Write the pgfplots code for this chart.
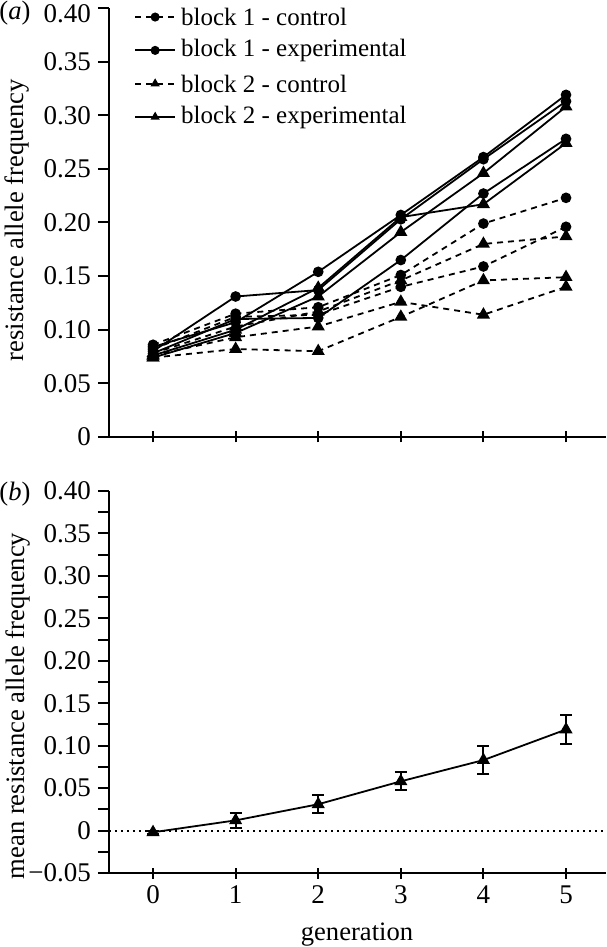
\documentclass[border=0pt]{standalone}
\usepackage{fontspec}
\setmainfont{Liberation Serif}
\usepackage{pgfplots}
\pgfplotsset{compat=1.18}

\begin{document}
\begin{tikzpicture}[font=\fontsize{12.5}{15}\selectfont]
\pgfplotsset{
 common/.style={
  scale only axis, width=248.5pt,
  xmin=-0.533, xmax=5.484,
  axis x line=bottom, axis y line=left,
  axis line style={-, line width=1pt},
  xtick={0,1,2,3,4,5}, xtick align=center, ytick align=outside,
  major tick length=5.5pt, minor tick length=5.5pt,
  every tick/.style={line width=1pt, black},
  minor tick style={line width=1pt, black},
  /pgf/number format/assume math mode=true,
  tick label style={font=\fontsize{13.5}{16}\selectfont},
  clip=false,
 },
 ctrl/.style={black, line width=0.9pt, dash pattern=on 3pt off 2.5pt, mark options={solid}},
 expt/.style={black, line width=0.9pt, solid},
 circ/.style={mark=*, mark size=2.2pt},
 tri/.style={mark=triangle*, mark size=2.9pt},
}

\begin{axis}[common, name=top, at={(0,0)}, anchor=south west, height=214.5pt,
  ymin=0, ymax=0.4,
  ytick={0,0.05,0.1,0.15,0.2,0.25,0.3,0.35,0.4},
  yticklabels={0,0.05,0.10,0.15,0.20,0.25,0.30,0.35,\raisebox{-3pt}[\height][\depth]{0.40}},
  xticklabels={},
  legend style={at={(rel axis cs:0.05,1.012)}, anchor=north west, draw=none, fill=none,
    row sep=1.6pt, inner sep=0pt, /tikz/every node/.style={inner sep=2.5pt}},
  legend cell align=left,
  legend image code/.code={\draw[#1, mark repeat=2, mark phase=2, mark size=1.8pt] plot coordinates {(0pt,0pt) (10pt,0pt) (20pt,0pt)};}
]
% block 1 control (dashed, circles)
\addplot[ctrl, circ] coordinates {(0,0.086) (1,0.115) (2,0.121) (3,0.151) (4,0.199) (5,0.223)};
\addlegendentry{block 1 - control}
% block 1 experimental (solid, circles)
\addplot[expt, circ] coordinates {(0,0.080) (1,0.131) (2,0.137) (3,0.203) (4,0.259) (5,0.313)};
\addlegendentry{block 1 - experimental}
% block 2 control (dashed, triangles)
\addplot[ctrl, tri] coordinates {(0,0.078) (1,0.103) (2,0.117) (3,0.146) (4,0.180) (5,0.187)};
\addlegendentry{block 2 - control}
% block 2 experimental (solid, triangles)
\addplot[expt, tri] coordinates {(0,0.074) (1,0.097) (2,0.131) (3,0.191) (4,0.246) (5,0.308)};
\addlegendentry{block 2 - experimental}
% further replicates
\addplot[ctrl, circ, forget plot] coordinates {(0,0.082) (1,0.112) (2,0.114) (3,0.140) (4,0.159) (5,0.196)};
\addplot[ctrl, tri, forget plot] coordinates {(0,0.076) (1,0.093) (2,0.103) (3,0.126) (4,0.114) (5,0.140)};
\addplot[ctrl, tri, forget plot] coordinates {(0,0.074) (1,0.082) (2,0.080) (3,0.112) (4,0.146) (5,0.149)};
\addplot[expt, circ, forget plot] coordinates {(0,0.084) (1,0.107) (2,0.154) (3,0.207) (4,0.261) (5,0.319)};
\addplot[expt, circ, forget plot] coordinates {(0,0.078) (1,0.110) (2,0.111) (3,0.165) (4,0.227) (5,0.278)};
\addplot[expt, tri, forget plot] coordinates {(0,0.076) (1,0.100) (2,0.139) (3,0.205) (4,0.217) (5,0.274)};
\end{axis}

\begin{axis}[common, name=bot, at={(0,-218pt)}, anchor=south west, height=191pt,
  ymin=-0.05, ymax=0.4,
  ytick={-0.05,0,0.05,0.1,0.15,0.2,0.25,0.3,0.35,0.4},
  yticklabels={−0.05,0,0.05,0.10,0.15,0.20,0.25,0.30,0.35,0.40},
  minor ytick={-0.025,0.025,0.075,0.125,0.175,0.225,0.275,0.325,0.375},
  xticklabels={0,1,2,3,4,5},
]
\addplot[black, line width=1pt, dotted, forget plot] coordinates {(-0.533,0) (5.484,0)};
\addplot[expt, tri, error bars/.cd, y dir=both, y explicit,
  error bar style={line width=1pt, solid},
  error mark options={rotate=90, mark size=3pt, line width=1pt}]
  table[x=x, y=y, y error=e] {
x y e
0 -0.002 0.002
1 0.012 0.009
2 0.031 0.0105
3 0.058 0.0105
4 0.083 0.0165
5 0.119 0.0175
};
\end{axis}

\begin{scope}[font=\fontsize{13.3}{16}\selectfont]
\node[rotate=90] at (-46pt,108.5pt) {resistance allele frequency};
\node[rotate=90] at (-45.5pt,-134.5pt) {mean resistance allele frequency};
\node at (-47pt,212pt) {(\textit{a})};
\node at (-47pt,-28.5pt) {(\textit{b})};
\node[anchor=base] at (124pt,-251.5pt) {generation};
\end{scope}

\pgfresetboundingbox
\path[use as bounding box] (-54.5pt,218.5pt) rectangle (248.5pt,-255pt);
\end{tikzpicture}
\end{document}
